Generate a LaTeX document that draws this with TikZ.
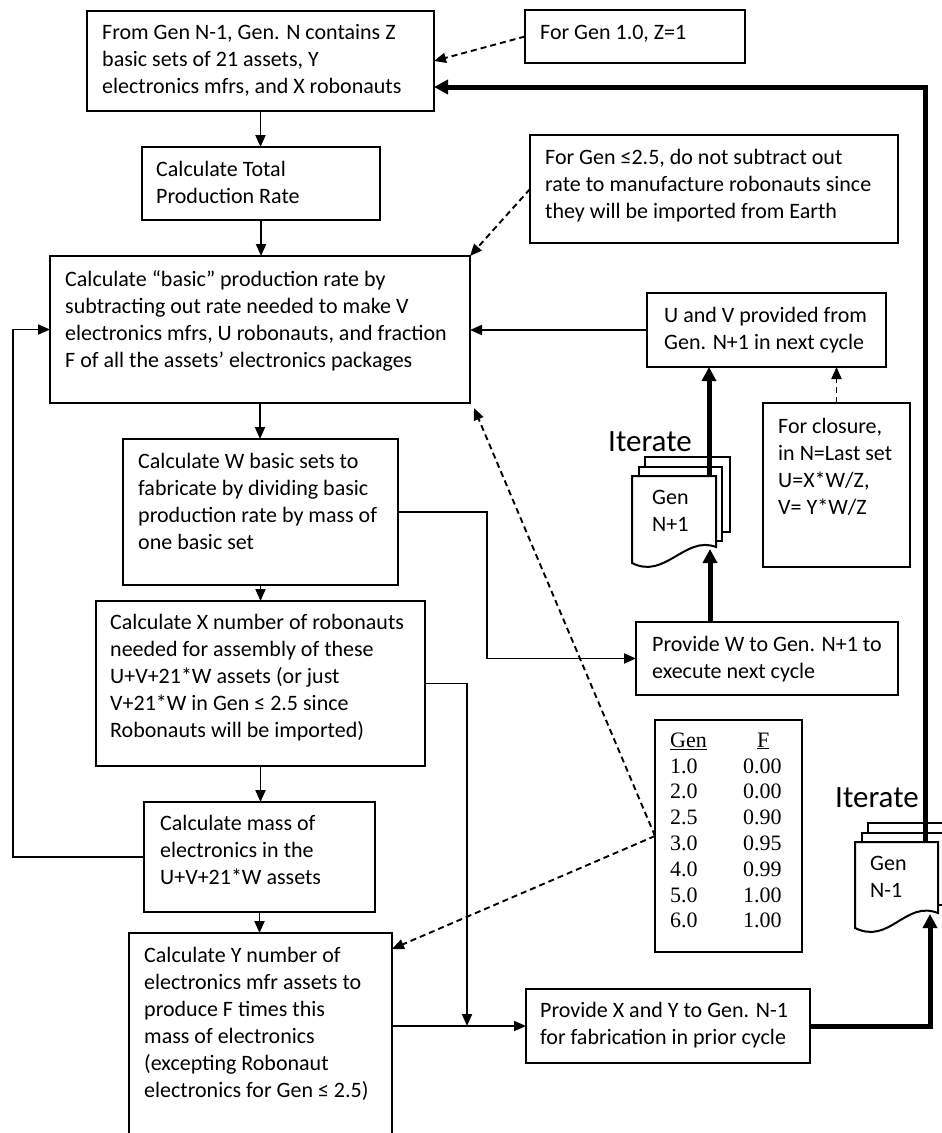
\documentclass[tikz,border=0pt]{standalone}
\usepackage{fontspec}
\setmainfont{Carlito}
\newfontfamily\tabfont{Liberation Serif}
\usetikzlibrary{arrows.meta}
\newcommand\fl{\rule{0pt}{19pt}}
\newcommand\flowbox[8]{%
 \node[boxst, minimum width={#4-#2}, minimum height={#5-#3}] (#1) at ({(#2+#4)/2},{(#3+#5)/2}) {};
 \node[txtst] (#1-t) at (#6,{#7-19}) {\fl #8};}
\begin{document}
\begin{tikzpicture}[x=1pt,y=-1pt,
 boxst/.style={draw, line width=2pt, inner sep=0pt, outer sep=0pt},
 txtst/.style={anchor=north west, inner sep=0pt, align=left, font=\fontsize{22}{27}\selectfont},
 ln/.style={line width=1.9pt},
 arr/.style={ln, -{Triangle[length=12pt,width=10pt]}},
 tk/.style={line width=5pt, -{Triangle[length=14pt,width=14pt]}},
 dsh/.style={line width=1.9pt, dash pattern=on 6pt off 4pt, -{Triangle[length=12pt,width=10pt]}},
 lbl/.style={anchor=base west, inner sep=0pt, font=\fontsize{31}{36}\selectfont},
 page/.style={draw, line width=2pt, fill=white}]
\useasboundingbox (0,0) rectangle (942,1133);
\clip (0,0) rectangle (942,1133);
\fill[white] (0,0) rectangle (942,1133);

% boxes
\flowbox{a}{87}{11}{434}{111}{102}{39}{From Gen N-1, Gen. N contains Z\\basic sets of 21 assets, Y\\electronics mfrs, and X robonauts}
\flowbox{z}{525}{10}{745}{63}{540}{39}{For Gen 1.0, Z=1}
\flowbox{b}{142}{147}{380}{220}{156}{176}{Calculate Total\\Production Rate}
\flowbox{note}{530}{135}{898}{243}{545}{164}{For Gen ≤2.5, do not subtract out\\rate to manufacture robonauts since\\they will be imported from Earth}
\flowbox{c}{50}{256}{470}{403}{65}{286}{Calculate “basic” production rate by\\subtracting out rate needed to make V\\electronics mfrs, U robonauts, and fraction\\F of all the assets’ electronics packages}
\flowbox{d}{647}{293}{886}{367}{664}{322}{U and V provided from\\Gen. N+1 in next cycle}
\flowbox{cl}{763}{403}{910}{567}{778}{433}{For closure,\\in N=Last set\\U=X*W/Z,\\V= Y*W/Z}
\flowbox{e}{123}{439}{398}{585}{138}{468}{Calculate W basic sets to\\fabricate by dividing basic\\production rate by mass of\\one basic set}
\flowbox{pw}{636}{622}{898}{695}{652}{651}{Provide W to Gen. N+1 to\\execute next cycle}
\flowbox{f}{96}{601}{425}{766}{110}{629}{Calculate X number of robonauts\\needed for assembly of these\\U+V+21*W assets (or just\\V+21*W in Gen ≤ 2.5 since\\Robonauts will be imported)}
\flowbox{g}{144}{802}{375}{912}{160}{830}{Calculate mass of\\electronics in the\\U+V+21*W assets}
\flowbox{h}{129}{933}{392}{1160}{144}{962}{Calculate Y number of\\electronics mfr assets to\\produce F times this\\mass of electronics\\(excepting Robonaut\\electronics for Gen ≤ 2.5)}
\flowbox{px}{526}{989}{810}{1063}{540}{1017}{Provide X and Y to Gen. N-1\\for fabrication in prior cycle}

% table
\node[boxst, minimum width=147, minimum height=232] (tb) at (728.5,836) {};
\node[anchor=north west, inner sep=0pt, align=left, font=\tabfont\fontsize{22}{25.8}\selectfont] (tb-t) at (670,{747-17})
 {\rule{0pt}{17pt}\makebox[73pt][l]{\underline{Gen}}\makebox[40pt][c]{\underline{F}}\\
  \makebox[73pt][l]{1.0}0.00\\
  \makebox[73pt][l]{2.0}0.00\\
  \makebox[73pt][l]{2.5}0.90\\
  \makebox[73pt][l]{3.0}0.95\\
  \makebox[73pt][l]{4.0}0.99\\
  \makebox[73pt][l]{5.0}1.00\\
  \makebox[73pt][l]{6.0}1.00};

% Gen N+1 document stack
\draw[page] (645,457) rectangle (730,532);
\draw[page] (639,467) rectangle (722,541);
\draw[page] (632,476) -- (716,476) -- (716,547) .. controls (685,535) and (665,580) .. (632,563) -- cycle;
\node[txtst] (gp1-t) at (652,{504-19}) {\fl Gen\\N+1};
\coordinate (gp1-top) at (709,476);
\coordinate (gp1-bot) at (710,549);
\node[lbl] (it1) at (608,451) {Iterate};

% Gen N-1 document stack
\draw[page] (868,823) rectangle (952,896);
\draw[page] (862,833) rectangle (944,905);
\draw[page] (855,842) -- (938,842) -- (938,913) .. controls (905,900) and (890,945) .. (855,928) -- cycle;
\node[txtst] (gm1-t) at (870,{870-19}) {\fl Gen\\N-1};
\coordinate (gm1-top) at (925,842);
\coordinate (gm1-bot) at (930,914);
\node[lbl] (it2) at (835,807) {Iterate};

% connectors
\draw[dsh] (z.west) -- (a.east);
\draw[arr] (a.south) -- (a.south |- b.north);
\draw[arr] (b.south) -- (b.south |- c.north);
\draw[dsh] (note.west) -- (c.north east);
\draw[arr] (d.west) -- (d.west -| c.east);
\draw[dsh] (cl.north) -- (cl.north |- d.south);
\draw[arr] (c.south) -- (c.south |- e.north);
\draw[arr] (e.south) -- (e.south |- f.north);
\draw[arr] (f.south) -- (f.south |- g.north);
\draw[arr] (g.south) -- (g.south |- h.north);
\coordinate (lx) at (13,0);
\draw[arr] (g.west) -- (g.west -| lx) |- (c.west);
\coordinate (ex) at (487,0);
\draw[arr] (e.east) -- (e.east -| ex) |- (pw.west);
\coordinate (fx) at (467,0);
\draw[arr] (f.east) -- (f.east -| fx) -- (fx |- px.west);
\draw[arr] (px.west -| h.east) -- (px.west);
\draw[dsh] (tb.west) -- ([xshift=4pt,yshift=-5pt]c.south east);
\draw[dsh] (tb.west) -- ([yshift=-16pt]h.north east);

% thick connectors
\draw[tk] (px.east) -| (gm1-bot);
\coordinate (tkc) at (925,87);
\draw[tk] (gm1-top) -- (tkc) -- (tkc -| a.east);
\draw[tk] (gp1-bot |- pw.north) -- (gp1-bot);
\draw[tk] (gp1-top) -- (gp1-top |- d.south);
\end{tikzpicture}
\end{document}
